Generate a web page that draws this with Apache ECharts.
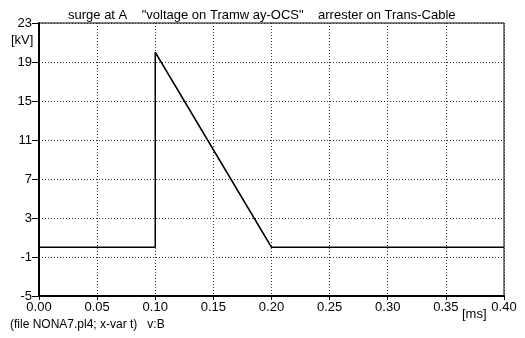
<!DOCTYPE html>
<html>
<head>
<meta charset="utf-8">
<script src="https://cdn.jsdelivr.net/npm/echarts@6/dist/echarts.min.js"></script>
<style>html,body{margin:0;padding:0;background:#fff}#c{width:525px;height:338px}</style>
</head>
<body>
<div id="c"></div>
<script>
var timeMs = [0, 0.1, 0.1, 0.2, 0.4];
var voltageKV = [0, 0, 20, 0, 0];
var yTicks = [-5, -1, 3, 7, 11, 15, 19, 23];
var xTicks = [0, 0.05, 0.1, 0.15, 0.2, 0.25, 0.3, 0.35, 0.4];
var titleText = 'surge at A    "voltage on Tramw ay-OCS"    arrester on Trans-Cable';
var footerText = '(file NONA7.pl4; x-var t)   v:B';

var font = 'Liberation Sans, Arial, sans-serif';
var chart = echarts.init(document.getElementById('c'));
chart.setOption({
  animation: false,
  backgroundColor: '#fff',
  title: {
    text: titleText, left: 63, top: 4,
    textStyle: {fontFamily: font, fontSize: 13, fontWeight: 'normal', color: '#000'}
  },
  grid: {left: 39, right: 21, top: 23, bottom: 42, show: true, borderColor: '#000', borderWidth: 1},
  xAxis: {
    type: 'value', min: 0, max: 0.4, interval: 0.05,
    axisLine: {onZero: false, lineStyle: {color: '#000', width: 2}},
    axisTick: {show: true, length: 4, lineStyle: {color: '#000'}},
    axisLabel: {fontFamily: font, fontSize: 13, color: '#000', margin: 5,
      formatter: function (v) { return v.toFixed(2); }},
    splitLine: {lineStyle: {color: '#333', type: [1, 2], width: 1}}
  },
  yAxis: {
    type: 'value', min: -5, max: 23, interval: 4,
    axisLine: {show: true, onZero: false, lineStyle: {color: '#000', width: 2}},
    axisTick: {show: true, length: 7, lineStyle: {color: '#000'}},
    axisLabel: {fontFamily: font, fontSize: 13, color: '#000', margin: 7},
    splitLine: {lineStyle: {color: '#333', type: [1, 2], width: 1}}
  },
  graphic: [
    {type: 'text', left: 11, top: 34, style: {text: '[kV]', font: '13px ' + font, fill: '#000'}},
    {type: 'text', left: 462, top: 308, style: {text: '[ms]', font: '13px ' + font, fill: '#000'}},
    {type: 'text', left: 10, top: 319, style: {text: footerText, font: '12px ' + font, fill: '#000'}}
  ],
  series: [{
    type: 'line',
    data: timeMs.map(function (t, i) { return [t, voltageKV[i]]; }),
    showSymbol: false,
    lineStyle: {color: '#000', width: 1.5}
  }]
});
</script>
</body>
</html>
